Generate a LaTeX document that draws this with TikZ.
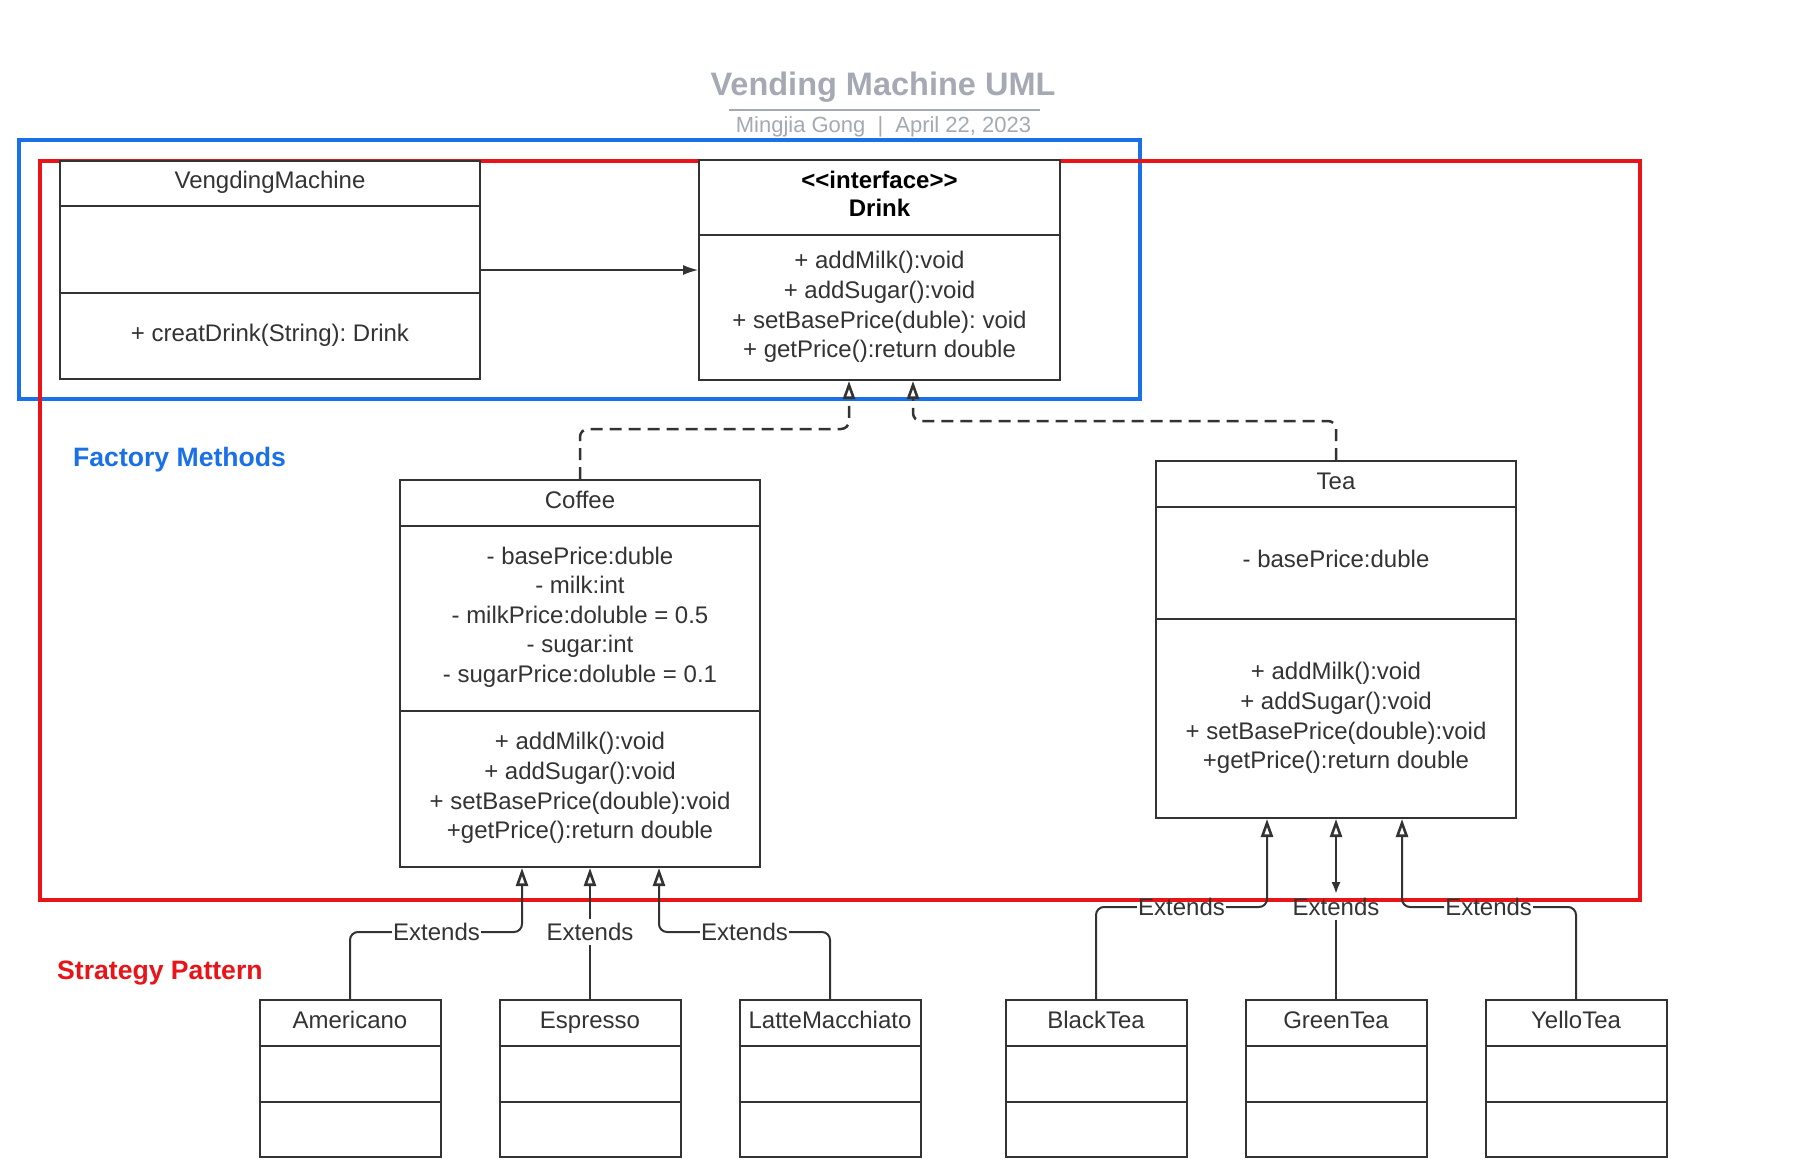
\documentclass[tikz,border=0pt]{standalone}
\usepackage{fontspec}
\setmainfont{Liberation Sans}
\usetikzlibrary{arrows.meta,calc}
\definecolor{ink}{HTML}{333333}
\definecolor{fmblue}{HTML}{1A70E6}
\definecolor{spred}{HTML}{E81418}
\definecolor{ttlgray}{HTML}{A4A9B3}
\frenchspacing
\newcommand{\mksubbox}[3]{%
  \node[umlbox, minimum width=181pt, minimum height=157pt] (#1) at (#2,1078.5) {};
  \draw[divider] (#1.west |- 0,1046) -- (#1.east |- 0,1046);
  \draw[divider] (#1.west |- 0,1102) -- (#1.east |- 0,1102);
  \node[txt, captxt] (#1-name) at (#2,1020) {#3};}
\begin{document}
\begin{tikzpicture}[x=1pt,y=-1pt,
  umlbox/.style={draw=ink, line width=2pt, fill=white, inner sep=0pt},
  divider/.style={draw=ink, line width=2pt},
  txt/.style={text=ink, font=\fontsize{24}{29.6}\selectfont, align=center, inner sep=0pt},
  captxt/.style={text height=17.3pt, text depth=0pt},
  lbl/.style={text=ink, font=\fontsize{24}{29.6}\selectfont, inner xsep=1pt, inner ysep=4pt, text height=17.3pt, text depth=0pt},
  gen/.style={draw=ink, line width=2pt, rounded corners=8pt},
  genthick/.style={draw=ink, line width=2.7pt},
  opentri/.style={-{Triangle[open,length=18pt,width=12pt,line width=2.6pt]}},
  realize/.style={draw=ink, line width=2.5pt, dash pattern=on 12pt off 7pt, rounded corners=8pt},
]
\useasboundingbox (0,0) rectangle (1796,1175);
\fill[white] (0,0) rectangle (1796,1175);

% title
\node[font=\bfseries\fontsize{32.5}{36}\selectfont, text=ttlgray, inner sep=0pt, text height=23.4pt, text depth=0pt] (title) at (883,84) {Vending Machine UML};
\draw[ttlgray, line width=2pt] (729,110) -- (1040,110);
\node[font=\fontsize{22}{26}\selectfont, text=ttlgray, inner sep=0pt, text height=15.8pt, text depth=0pt] (subtitle) at (883.5,125) {Mingjia Gong\hspace{0.55em}|\hspace{0.55em}April 22, 2023};

% frames
\draw[fmblue, line width=3.5pt] (19,140) rectangle (1140,399);
\draw[spred, line width=4pt] (40,161) rectangle (1640,900);
\node[font=\bfseries\fontsize{26.6}{30}\selectfont, text=fmblue, inner sep=0pt, text height=19.2pt, text depth=0pt, anchor=west] (fm) at (73,457) {Factory Methods};
\node[font=\bfseries\fontsize{26.6}{30}\selectfont, text=spred, inner sep=0pt, text height=19.2pt, text depth=0pt, anchor=west] (sp) at (57,970) {Strategy Pattern};

% VengdingMachine
\node[umlbox, minimum width=420pt, minimum height=218pt] (vm) at (270,270) {};
\draw[divider] (vm.west |- 0,206) -- (vm.east |- 0,206);
\draw[divider] (vm.west |- 0,293) -- (vm.east |- 0,293);
\node[txt, captxt] (vmname) at (270,180) {VengdingMachine};
\node[txt, captxt] (vmop) at (270,333) {+ creatDrink(String): Drink};

% Drink
\node[umlbox, minimum width=361pt, minimum height=220pt] (drink) at (879.5,270) {};
\draw[divider] (drink.west |- 0,235) -- (drink.east |- 0,235);
\node[txt, text=black, font=\bfseries\fontsize{24}{28}\selectfont] (drinkname) at (879.5,194) {<{}<interface>{}>\\Drink};
\node[txt] (drinkops) at (879.5,307) {+ addMilk():void\\+ addSugar():void\\+ setBasePrice(duble): void\\+ getPrice():return double};

% Coffee
\node[umlbox, minimum width=360pt, minimum height=387pt] (coffee) at (580,673.5) {};
\draw[divider] (coffee.west |- 0,526) -- (coffee.east |- 0,526);
\draw[divider] (coffee.west |- 0,711) -- (coffee.east |- 0,711);
\node[txt, captxt] (coffeename) at (580,500) {Coffee};
\node[txt] (coffeeattr) at (580,617) {- basePrice:duble\\- milk:int\\- milkPrice:doluble = 0.5\\- sugar:int\\- sugarPrice:doluble = 0.1};
\node[txt] (coffeeops) at (580,788) {+ addMilk():void\\+ addSugar():void\\+ setBasePrice(double):void\\+getPrice():return double};

% Tea
\node[umlbox, minimum width=360pt, minimum height=357pt] (tea) at (1336,639.5) {};
\draw[divider] (tea.west |- 0,507) -- (tea.east |- 0,507);
\draw[divider] (tea.west |- 0,619) -- (tea.east |- 0,619);
\node[txt, captxt] (teaname) at (1336,481) {Tea};
\node[txt, captxt] (teaattr) at (1336,559) {- basePrice:duble};
\node[txt] (teaops) at (1336,718) {+ addMilk():void\\+ addSugar():void\\+ setBasePrice(double):void\\+getPrice():return double};

% subclasses
\mksubbox{amer}{350}{Americano}
\mksubbox{esp}{590}{Espresso}
\mksubbox{latte}{830}{LatteMacchiato}
\mksubbox{black}{1096}{BlackTea}
\mksubbox{green}{1336}{GreenTea}
\mksubbox{yello}{1576}{YelloTea}

% labels
\node[lbl] (lblA) at (436.5,932) {Extends};
\node[lbl] (lblE) at (590,932) {Extends};
\node[lbl] (lblL) at (744.5,932) {Extends};
\node[lbl] (lblB) at (1181.5,907) {Extends};
\node[lbl] (lblG) at (1336,907) {Extends};
\node[lbl] (lblY) at (1488.6,907) {Extends};

% association
\draw[ink, line width=1.3pt, -{Latex[length=15pt,width=10pt]}] (vm.east) -- (drink.west);

% realizations
\draw[realize, opentri] (coffee.north) |- (849,429) -- (drink.south -| 849,0);
\draw[realize, opentri] (tea.north) |- (913,421) -- (drink.south -| 913,0);

% coffee generalizations
\draw[gen] (amer.north) |- (lblA.west);
\draw[gen, opentri] (lblA.east) -| (coffee.south -| 522,0);
\draw[genthick] (esp.north) -- (lblE.south);
\draw[genthick, opentri] (lblE.north) -- (coffee.south -| esp.north);
\draw[gen] (latte.north) |- (lblL.east);
\draw[gen, opentri] (lblL.west) -| (coffee.south -| 659,0);

% tea generalizations
\draw[gen] (black.north) |- (lblB.west);
\draw[gen, opentri] (lblB.east) -| (tea.south -| 1267,0);
\draw[genthick] (green.north) -- (lblG.south);
\draw[genthick, {Latex[length=12pt,width=9pt]}-{Triangle[open,length=18pt,width=12pt,line width=2.6pt]}] (lblG.north) -- (tea.south -| green.north);
\draw[gen] (yello.north) |- (lblY.east);
\draw[gen, opentri] (lblY.west) -| (tea.south -| 1402,0);
\end{tikzpicture}
\end{document}
